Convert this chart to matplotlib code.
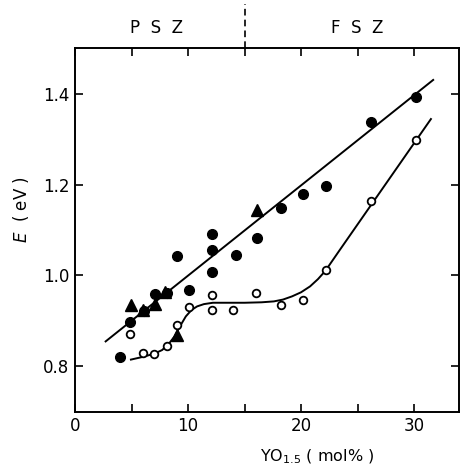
import matplotlib
matplotlib.use('Agg')
import matplotlib.pyplot as plt

# filled circles
fc_x = [4.0, 4.9, 6.1, 7.1, 8.1, 9.0, 10.1, 12.1, 12.1, 12.1, 14.2, 16.1, 18.2, 20.2, 22.2, 26.2, 30.2]
fc_y = [0.820, 0.897, 0.922, 0.960, 0.961, 1.042, 0.969, 1.092, 1.057, 1.007, 1.046, 1.083, 1.149, 1.180, 1.196, 1.337, 1.392]

# filled triangles
tr_x = [4.95, 6.0, 7.06, 8.0, 9.0, 16.1]
tr_y = [0.936, 0.925, 0.938, 0.963, 0.870, 1.143]

# open circles
oc_x = [4.9, 6.0, 7.0, 8.1, 9.06, 10.1, 12.1, 12.1, 14.0, 16.0, 18.2, 20.2, 22.2, 26.2, 30.2]
oc_y = [0.872, 0.830, 0.828, 0.846, 0.891, 0.930, 0.958, 0.923, 0.923, 0.962, 0.936, 0.947, 1.013, 1.163, 1.298]

# upper straight line
up_x = [2.7, 31.7]
up_y = [0.855, 1.430]

# lower curve
lo_x = [4.94, 6.0, 7.0, 7.7, 8.3, 8.8, 9.3, 9.8, 10.3, 10.8, 11.4, 12.2, 13.5, 15.0, 16.5, 17.6,
        18.4, 19.2, 20.0, 20.8, 21.5, 22.15, 23.4, 31.5]
lo_y = [0.815, 0.821, 0.828, 0.836, 0.850, 0.866, 0.889, 0.910, 0.924, 0.932, 0.937, 0.940, 0.940, 0.940, 0.941, 0.943,
        0.947, 0.954, 0.963, 0.976, 0.992, 1.010, 1.055, 1.344]

plt.rcParams['font.family'] = 'DejaVu Sans'

fig = plt.figure(figsize=(4.61, 4.67), dpi=100)
ax = fig.add_axes([0.163, 0.118, 0.833, 0.779])

ax.plot(up_x, up_y, color='black', lw=1.4)
ax.plot(lo_x, lo_y, color='black', lw=1.4)
ax.plot(fc_x, fc_y, 'o', color='black', ms=7)
ax.plot(tr_x, tr_y, '^', color='black', ms=8)
ax.plot(oc_x, oc_y, 'o', mfc='white', mec='black', mew=1.3, ms=5.5)

ax.set_xlim(0, 34)
ax.set_ylim(0.7, 1.5)
ax.set_xticks([0, 10, 20, 30])
ax.set_xticks([5, 15, 25], minor=True)
ax.set_yticks([0.8, 1.0, 1.2, 1.4])
ax.tick_params(which='both', direction='in', length=6, width=1.2,
               top=True, right=True, labelsize=12)
ax.tick_params(axis='x', which='both', pad=4)
ax.tick_params(axis='y', pad=4)
for s in ax.spines.values():
    s.set_linewidth(1.4)

ax.set_xlabel('YO$_{\\mathregular{1.5}}$ ( mol% )', fontsize=11.5)
ax.xaxis.set_label_coords(0.63, -0.098)
ax.set_ylabel('$\\mathit{E}$  ( eV )', fontsize=12)
ax.yaxis.set_label_coords(-0.115, 0.555)

# phase region marker above the plot
trans = ax.get_xaxis_transform()
ax.plot([15, 15], [1.0, 1.12], transform=trans, color='black', lw=1.2,
        ls=(0, (4, 2.5)), clip_on=False)
ax.text(7.2, 1.055, 'P  S  Z', transform=trans, ha='center', va='center', fontsize=12)
ax.text(25.0, 1.055, 'F  S  Z', transform=trans, ha='center', va='center', fontsize=12)

fig.savefig('out.png', dpi=100)
